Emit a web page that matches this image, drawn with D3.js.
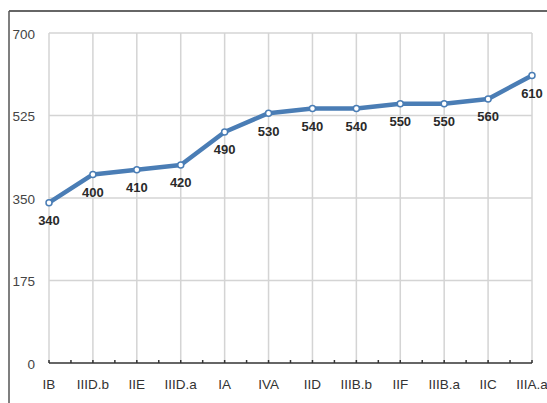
<!DOCTYPE html>
<html>
<head>
<meta charset="utf-8">
<script src="https://cdn.jsdelivr.net/npm/d3@7"></script>
<style>
  html, body { margin: 0; padding: 0; background: #fff; }
  svg { display: block; font-family: "Liberation Sans", Arial, Helvetica, sans-serif; }
</style>
</head>
<body>
<svg id="chart" width="547" height="403"></svg>
<script>
// Categories along the x axis and the value at each one
const categories = ["IB", "IIID.b", "IIE", "IIID.a", "IA", "IVA", "IID", "IIIB.b", "IIF", "IIIB.a", "IIC", "IIIA.a"];
const values = [340, 400, 410, 420, 490, 530, 540, 540, 550, 550, 560, 610];
const yTicks = [0, 175, 350, 525, 700];

const svg = d3.select("#chart");
const plot = { left: 49, right: 532, top: 33, bottom: 363 };

const x = d3.scalePoint().domain(categories).range([plot.left, plot.right]);
const y = d3.scaleLinear().domain([0, 700]).range([plot.bottom, plot.top]);

// Outer frame (top and left edges)
svg.append("line").attr("x1", 9).attr("x2", 547).attr("y1", 11).attr("y2", 11)
  .attr("stroke", "#333").attr("stroke-width", 1.5);
svg.append("line").attr("x1", 9).attr("x2", 9).attr("y1", 11).attr("y2", 403)
  .attr("stroke", "#555").attr("stroke-width", 1.5);

// Horizontal gridlines
svg.append("g").selectAll("line").data(yTicks.filter(d => d > 0)).join("line")
  .attr("x1", plot.left).attr("x2", plot.right)
  .attr("y1", d => y(d)).attr("y2", d => y(d))
  .attr("stroke", "#d4d4d4").attr("stroke-width", 1.5);

// Vertical gridlines at each category
svg.append("g").selectAll("line").data(categories).join("line")
  .attr("x1", d => x(d)).attr("x2", d => x(d))
  .attr("y1", plot.top).attr("y2", plot.bottom)
  .attr("stroke", "#d4d4d4").attr("stroke-width", 1.5);

// Y tick labels
svg.append("g").selectAll("text").data(yTicks).join("text")
  .attr("x", 35).attr("y", d => y(d) + 2)
  .attr("text-anchor", "end").attr("dominant-baseline", "middle")
  .attr("font-size", 13.5).attr("fill", "#444")
  .text(d => d);

// Bottom axis line with small ticks at categories and midpoints
const step = x.step();
const tickPos = [];
categories.forEach((c, i) => {
  tickPos.push(x(c));
  if (i < categories.length - 1) tickPos.push(x(c) + step / 2);
});
svg.append("line").attr("x1", plot.left).attr("x2", plot.right)
  .attr("y1", plot.bottom).attr("y2", plot.bottom)
  .attr("stroke", "#333").attr("stroke-width", 1.5);
svg.append("g").selectAll("line").data(tickPos).join("line")
  .attr("x1", d => d).attr("x2", d => d)
  .attr("y1", plot.bottom).attr("y2", plot.bottom - 3)
  .attr("stroke", "#333").attr("stroke-width", 1.5);

// X tick labels
svg.append("g").selectAll("text").data(categories).join("text")
  .attr("x", d => x(d)).attr("y", 385)
  .attr("text-anchor", "middle").attr("dominant-baseline", "middle")
  .attr("font-size", 13.5).attr("fill", "#333")
  .text(d => d);

const data = categories.map((c, i) => ({ c, v: values[i] }));

// Series line
svg.append("path").datum(data)
  .attr("fill", "none").attr("stroke", "#4a7db5").attr("stroke-width", 4.5)
  .attr("stroke-linejoin", "round").attr("stroke-linecap", "round")
  .attr("d", d3.line().x(d => x(d.c)).y(d => y(d.v)));

// Point markers
svg.append("g").selectAll("circle").data(data).join("circle")
  .attr("cx", d => x(d.c)).attr("cy", d => y(d.v)).attr("r", 3)
  .attr("fill", "#fff").attr("stroke", "#4a7db5").attr("stroke-width", 1.5);

// Value labels below points
svg.append("g").selectAll("text").data(data).join("text")
  .attr("x", d => x(d.c)).attr("y", d => y(d.v) + 19)
  .attr("text-anchor", "middle").attr("dominant-baseline", "middle")
  .attr("font-size", 13).attr("font-weight", "bold").attr("fill", "#2a2a2a")
  .text(d => d.v);
</script>
</body>
</html>
